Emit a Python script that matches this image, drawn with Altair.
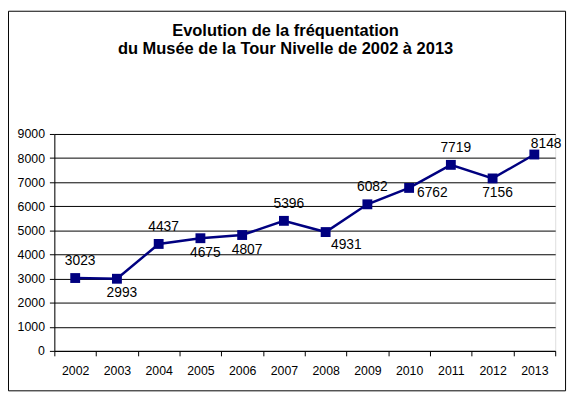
import altair as alt
import pandas as pd

years = ["2002", "2003", "2004", "2005", "2006", "2007", "2008", "2009", "2010", "2011", "2012", "2013"]
visitors = [3023, 2993, 4437, 4675, 4807, 5396, 4931, 6082, 6762, 7719, 7156, 8148]
y_ticks = [0, 1000, 2000, 3000, 4000, 5000, 6000, 7000, 8000, 9000]
title_lines = ["Evolution de la fréquentation", "du Musée de la Tour Nivelle de 2002 à 2013"]

df = pd.DataFrame({"year": years, "visitors": visitors})

FONT = "Liberation Sans"
NAVY = "#000080"

x_enc = alt.X("year:N", sort=years, title=None,
              scale=alt.Scale(paddingInner=0, paddingOuter=0),
              axis=alt.Axis(tickBand="extent", labelAngle=0, labelFont=FONT, labelFontSize=12.5,
                            labelColor="black", domainColor="black", tickColor="black",
                            tickSize=5, labelPadding=9, grid=False))
y_enc = alt.Y("visitors:Q", title=None,
              scale=alt.Scale(domain=[0, 9000], nice=False),
              axis=alt.Axis(values=y_ticks, format="d", labelFont=FONT, labelFontSize=12.5,
                            labelColor="black", domainColor="black", tickColor="black",
                            tickSize=5, labelPadding=5,
                            grid=True, gridColor="black", gridWidth=1, gridOpacity=1))

base = alt.Chart(df).encode(x=x_enc, y=y_enc)

line = base.mark_line(color=NAVY, strokeWidth=2.5)
points = base.mark_point(shape="square", size=100, filled=True, color=NAVY, opacity=1)


def labels(group, dx, dy, align="center"):
    return base.transform_filter(
        alt.FieldOneOfPredicate(field="year", oneOf=group)
    ).mark_text(font=FONT, fontSize=14, color="black", dx=dx, dy=dy, align=align,
                baseline="middle").encode(text="visitors:Q")


above = labels(["2002", "2004", "2007", "2009", "2011"], 5, -17)
below = labels(["2003", "2005", "2006", "2012"], 5, 15)
below_right = labels(["2008"], 21, 13)
right = labels(["2010"], 8, 5, align="left")
above_right = labels(["2013"], 12, -11)

one_row = alt.Chart(df).transform_filter(alt.datum.year == "2002")

border = one_row.mark_rect(fill=None, stroke="black", strokeWidth=1).encode(
    x=alt.value(-46.5), x2=alt.value(518.5), y=alt.value(-124.5), y2=alt.value(260.5)
)


def title_line(text, y):
    return one_row.mark_text(font=FONT, fontSize=16.7, fontWeight="bold", color="black",
                             align="center", baseline="alphabetic").encode(
        text=alt.value(text), x=alt.value(234.5), y=alt.value(y))


title1 = title_line(title_lines[0], -99.7)
title2 = title_line(title_lines[1], -81.3)

chart = alt.layer(border, title1, title2, line, points, above, below, below_right, right,
                  above_right).properties(
    width=508, height=220,
    autosize=alt.AutoSizeParams(type="none"),
    padding={"left": 47, "top": 125, "right": 14, "bottom": 45},
).configure_view(stroke=None).configure(background="white")

chart.save("out.html", embed_options={"renderer": "svg", "actions": False})
